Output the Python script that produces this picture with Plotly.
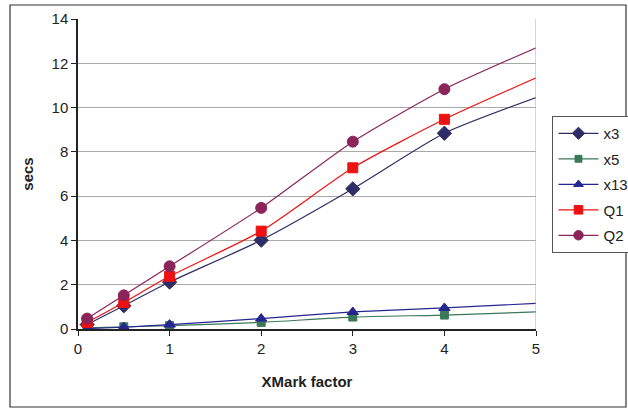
import plotly.graph_objects as go

x_vals = [0.1, 0.5, 1, 2, 3, 4, 5.05]
x3 = [0.2, 1.05, 2.12, 4.01, 6.33, 8.84, 10.52]
x5 = [0.05, 0.1, 0.15, 0.3, 0.54, 0.63, 0.78]
x13 = [0.02, 0.08, 0.2, 0.47, 0.77, 0.95, 1.17]
q1 = [0.3, 1.2, 2.38, 4.42, 7.28, 9.47, 11.43]
q2 = [0.47, 1.52, 2.83, 5.47, 8.46, 10.83, 12.79]

series = [
    ("x3", x3, "#2E2E66", "diamond", 11),
    ("x5", x5, "#3A7858", "square", 8),
    ("x13", x13, "#26268F", "triangle-up", 10),
    ("Q1", q1, "#EE1111", "square", 10),
    ("Q2", q2, "#8A2459", "circle", 11),
]

fig = go.Figure()
for name, ys, col, sym, sz in series:
    sizes = [sz] * (len(ys) - 1) + [0]
    fig.add_trace(go.Scatter(
        x=x_vals, y=ys, name=name, mode="lines+markers",
        line=dict(color=col, width=1.2, shape="spline", smoothing=0.6),
        marker=dict(symbol=sym, size=sizes, color=col, opacity=1,
                    line=dict(width=1, color=col)),
        legendgroup=name,
    ))

fig.update_layout(
    width=628, height=409,
    margin=dict(l=78, r=92, t=19, b=80, autoexpand=False),
    paper_bgcolor="white", plot_bgcolor="white",
    font=dict(family="Liberation Sans, Arial", size=14, color="#222"),
    showlegend=True,
    legend=dict(x=1.036, y=0.687, xanchor="left", yanchor="top",
                bordercolor="#555", borderwidth=1, bgcolor="white",
                font=dict(size=15), tracegroupgap=3, itemwidth=40),
    xaxis=dict(range=[0, 5], tickvals=[0, 1, 2, 3, 4, 5], showgrid=False,
               showline=True, linecolor="#222", linewidth=1.5, automargin=False,
               ticks="outside", ticklen=5, tickcolor="#222", zeroline=False,
               title=dict(text="<b>XMark factor</b>", font=dict(size=15), standoff=21),
               tickfont=dict(size=15)),
    yaxis=dict(range=[0, 14], tickvals=list(range(0, 15, 2)), showgrid=True,
               gridcolor="#A8A8A8", gridwidth=1, automargin=False,
               showline=True, linecolor="#222", linewidth=1.5,
               ticks="outside", ticklen=5, tickcolor="#222", zeroline=False,
               title=dict(text="<b>secs</b>", font=dict(size=15), standoff=14),
               tickfont=dict(size=15)),
    shapes=[
        dict(type="line", xref="x", yref="paper", x0=5, x1=5, y0=0, y1=1,
             line=dict(color="#A8A8A8", width=1)),
        dict(type="rect", xref="paper", yref="paper",
             x0=(10 - 78) / 458, x1=(626 - 78) / 458,
             y0=(329 - 407) / 310, y1=(329 - 5) / 310,
             line=dict(color="#333", width=1.2)),
    ],
)

fig.write_html(
    "out.html",
    config={"displayModeBar": False},
    post_script="document.body.style.margin='0';document.body.style.overflow='hidden';",
)
